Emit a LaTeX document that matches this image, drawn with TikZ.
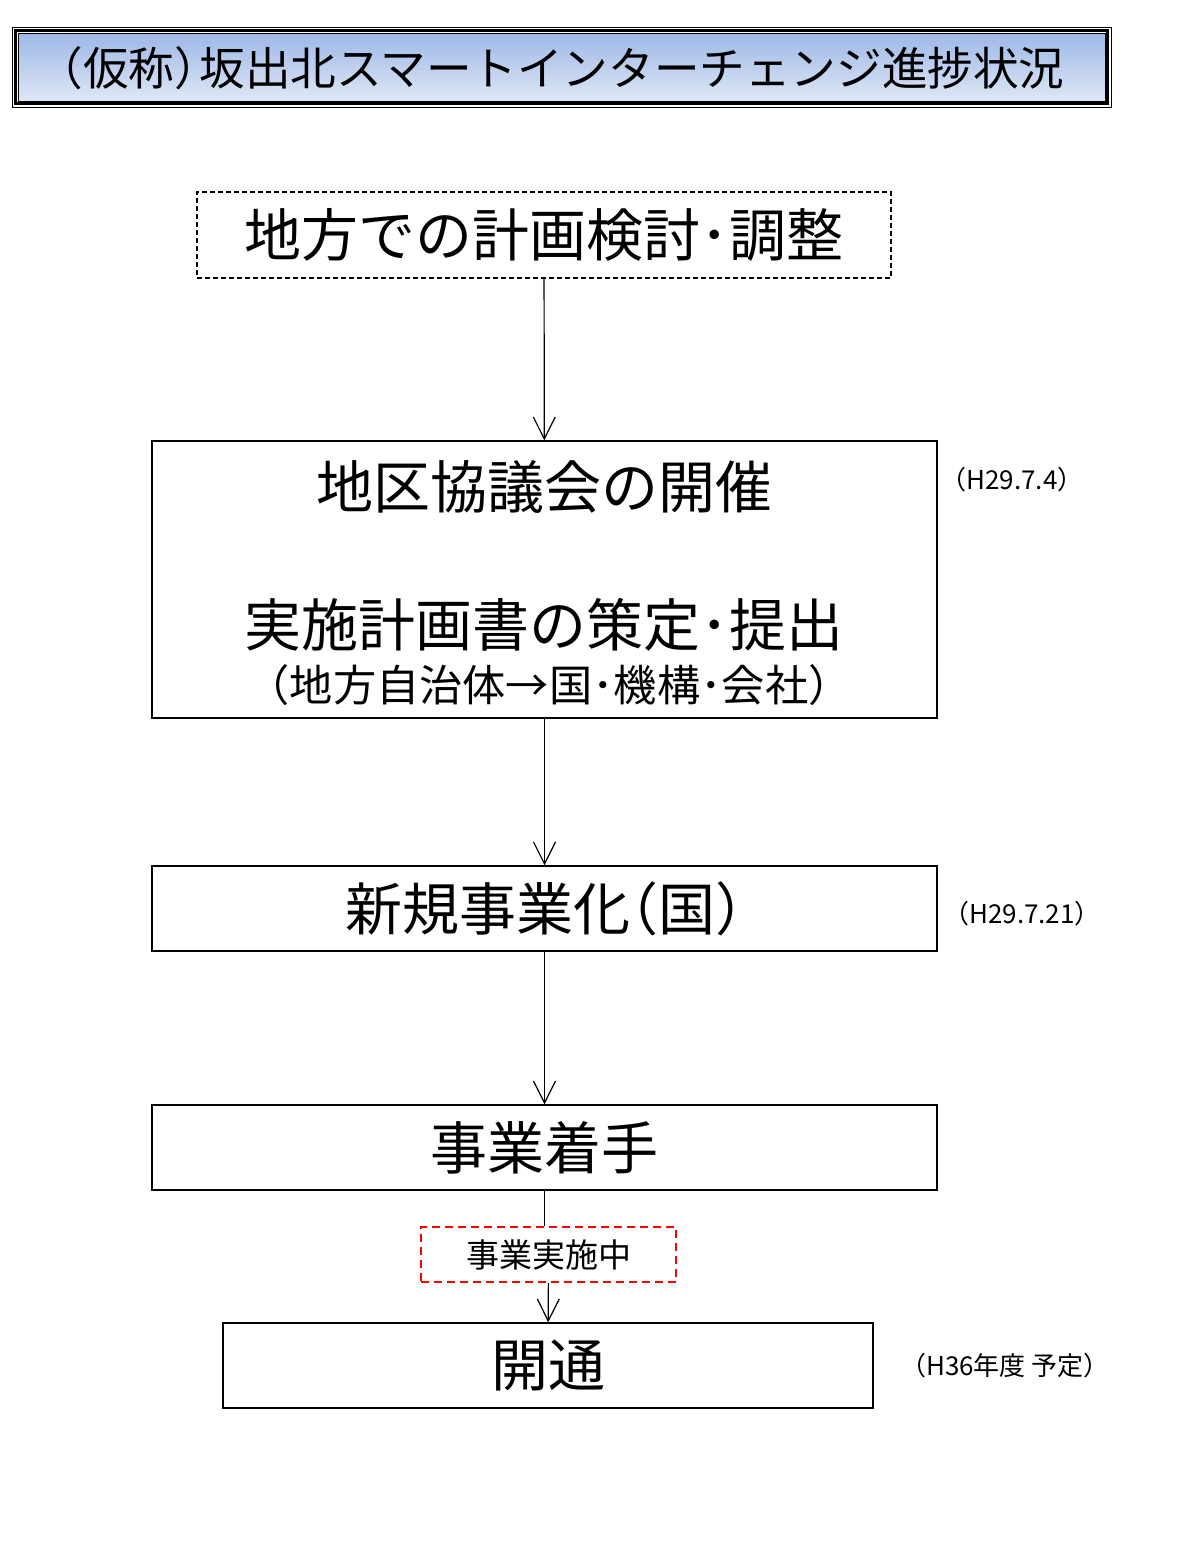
\documentclass[tikz,border=0pt]{standalone}
\usepackage{fontspec}
\newfontfamily\jp{Noto Sans CJK JP}
\usetikzlibrary{arrows.meta}
\definecolor{judulatas}{RGB}{158,184,230}
\definecolor{judulbawah}{RGB}{222,231,246}
\tikzset{
  kotak/.style={draw, line width=0.75pt, minimum width=392.5pt, minimum height=42.5pt, inner sep=0pt, font=\jp\fontsize{28.5}{30}\selectfont},
  panah/.style={line width=0.6pt, -{Straight Barb[length=11pt,width=11pt]}},
  tanggal/.style={font=\jp\fontsize{13}{15}\selectfont}
}

\begin{document}
\begin{tikzpicture}[x=0.5pt,y=-0.5pt]
    \useasboundingbox (0,0) rectangle (1200,1553);
    % judul
    \draw[line width=0.5pt] (12,27) rectangle (1111,107);
    \draw[line width=1.5pt] (15.5,30.5) rectangle (1107.5,103.5);
    \draw[line width=0.5pt, top color=judulatas, bottom color=judulbawah] (18,33) rectangle (1105,101);
    \node[font=\jp\fontsize{22.8}{24}\selectfont] (judul) at (551,68) {（仮称）\kern-0.45em 坂出北スマートインターチェンジ進捗状況};

    % kotak-kotak tahapan
    \node[kotak, dashed, dash pattern=on 2.5pt off 1.5pt, line width=0.6pt, minimum width=347pt, minimum height=43pt] (kentou) at (544,235) {地方での計画検討･調整};
    \node[kotak, minimum height=138.5pt] (kyogi) at (544.5,579.5) {};
    \node[font=\jp\fontsize{28.5}{30}\selectfont] (kaisai) at (544,487) {地区協議会の開催};
    \node[font=\jp\fontsize{28.5}{30}\selectfont] (sakutei) at (544,625) {実施計画書の策定･提出};
    \node[font=\jp\fontsize{21.6}{23}\selectfont] (shutai) at (549,685) {（地方自治体→国･機構･会社）};
    \node[kotak] (jigyoka) at (544.5,908.5) {新規事業化\kern-0.5em（国）\kern-0.5em};
    \node[kotak] (chakushu) at (544.5,1147.5) {事業着手};
    \node[draw=red, dashed, dash pattern=on 4pt off 2.5pt, line width=1pt, minimum width=127.5pt, minimum height=27.5pt, inner sep=0pt, font=\jp\fontsize{16.5}{18}\selectfont] (jisshi) at (548.5,1254.5) {事業実施中};
    \node[kotak, minimum width=325pt] (kaitsu) at (548,1365.5) {開通};

    % tanggal
    \node[tanggal] (tgl1) at (1012,480) {（H29.7.4）};
    \node[tanggal] (tgl2) at (1022,914) {（H29.7.21）};
    \node[tanggal] (tgl3) at (1005,1366) {（H36年度 予定）};

    % panah
    \draw[panah] (kentou) -- (kyogi);
    \draw[panah] (kyogi) -- (jigyoka);
    \draw[panah] (jigyoka) -- (chakushu);
    \draw[line width=0.6pt] (chakushu.south) -- (jisshi.north -| chakushu.south);
    \draw[panah] (jisshi) -- (kaitsu);
\end{tikzpicture}
\end{document}
